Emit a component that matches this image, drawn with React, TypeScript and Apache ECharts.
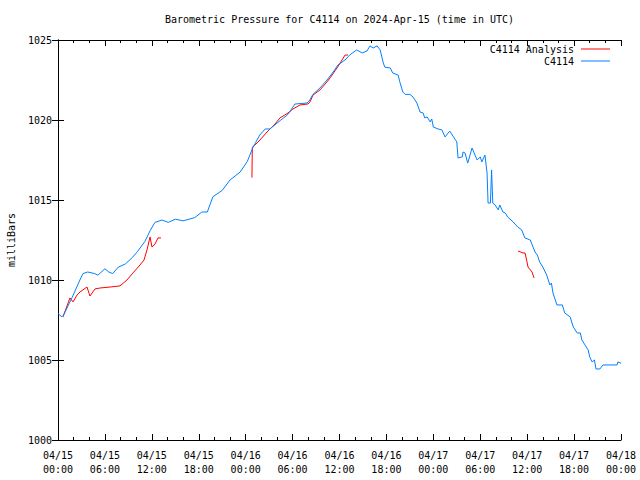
import React, { useEffect, useRef } from "react";
import * as echarts from "echarts";

// Hours since 2024-04-15 00:00 UTC
const stationHours = [
  0, 0.5, 0.7, 1.8, 2.8, 3.2, 3.8, 4.7, 5.1, 6.0, 6.5, 7.0, 7.7, 8.6, 9.5, 10.2, 11.1, 11.8, 12.4, 13.3,
  14.1, 15.0, 16.0, 17.5, 18.4, 19.1, 19.8, 21.0, 22.0, 23.3, 24.2, 24.9, 25.8, 26.5, 27.1, 27.75, 28.5,
  29.3, 29.7, 30.3, 31.85, 32.2, 32.6, 33.5, 34.4, 35.2, 35.8, 36.7, 37.3, 38.2, 38.9, 39.5, 39.9, 40.3,
  40.8, 41.2, 41.6, 41.8, 42.5, 42.8, 43.5, 43.7, 44.1, 44.4, 45.0, 45.4, 45.9, 46.3, 46.7, 46.9, 47.2,
  47.6, 47.8, 48.0, 48.6, 49.1, 49.5, 50.1, 50.5, 51.0, 51.16, 51.7, 51.8, 52.05, 52.4, 52.95, 53.6, 54.0,
  54.2, 54.6, 54.87, 55.0, 55.3, 55.45, 55.6, 55.9, 56.3, 56.5, 56.9, 57.2, 57.5, 58.2, 58.8, 59.3, 59.7,
  60.4, 61.0, 61.3, 61.6, 62.0, 62.5, 62.9, 63.1, 63.3, 63.8, 64.5, 64.8, 65.5, 65.9, 66.4, 66.8, 67.0,
  67.4, 67.8, 68.0, 68.3, 68.6, 68.8, 69.3, 69.7, 71.5, 71.6, 72.0,
];
const stationPressure = [
  1007.9, 1007.7, 1007.8, 1008.9, 1010.0, 1010.4, 1010.5, 1010.4, 1010.3, 1010.7, 1010.5, 1010.4, 1010.8,
  1011.0, 1011.4, 1011.8, 1012.4, 1013.1, 1013.6, 1013.75, 1013.6, 1013.8, 1013.7, 1013.9, 1014.25, 1014.25,
  1015.2, 1015.6, 1016.25, 1016.75, 1017.4, 1018.25, 1019.06, 1019.44, 1019.44, 1019.7, 1020.0, 1020.3,
  1020.56, 1021.0, 1021.06, 1021.25, 1021.6, 1022.0, 1022.5, 1023.0, 1023.44, 1023.75, 1024.06, 1024.38,
  1024.19, 1024.31, 1024.63, 1024.5, 1024.63, 1024.38, 1023.56, 1023.3, 1023.25, 1022.94, 1022.81, 1022.4,
  1021.75, 1021.6, 1021.6, 1021.44, 1021.06, 1020.5, 1020.44, 1020.13, 1020.19, 1019.88, 1020.06, 1019.56,
  1019.44, 1019.38, 1018.94, 1019.31, 1019.0, 1018.63, 1017.63, 1017.69, 1018.0, 1017.94, 1017.31, 1018.25,
  1017.5, 1017.69, 1017.38, 1017.81, 1016.69, 1014.81, 1014.81, 1016.88, 1014.81, 1014.69, 1014.38, 1014.69,
  1014.25, 1014.19, 1013.94, 1013.63, 1013.31, 1013.13, 1012.63, 1012.5, 1011.75, 1011.56, 1011.13, 1010.81,
  1010.31, 1009.69, 1009.81, 1009.19, 1008.44, 1008.44, 1007.94, 1007.69, 1007.06, 1006.69, 1006.69, 1006.25,
  1005.94, 1005.63, 1005.19, 1004.88, 1005.0, 1004.44, 1004.44, 1004.69, 1004.69, 1004.88, 1004.8,
];

// null entries break the analysis line into its three segments
const analysisHours = [
  0.64, 1.53, 1.92, 2.43, 2.81, 3.71, 4.09, 4.73, 5.37, 6.65, 7.93, 8.82, 9.59, 10.49, 11.0, 11.38, 11.77,
  12.02, 12.41, 12.79, 13.17, 18,
  24.8, 24.85, 25.45, 25.83, 26.73, 27.75, 28.39, 29.42, 30.05, 30.95, 31.97, 32.23, 32.61, 33.51, 34.4,
  34.79, 35.68, 36.32, 36.71, 37.09, 48,
  58.83, 59.47, 59.73, 59.98, 60.11, 60.62, 60.88,
];
const analysisPressure = [
  1007.69, 1008.88, 1008.63, 1009.06, 1009.25, 1009.56, 1009.0, 1009.44, 1009.5, 1009.56, 1009.63, 1010.0,
  1010.44, 1010.94, 1011.25, 1011.88, 1012.69, 1012.06, 1012.25, 1012.63, 1012.63, null,
  1016.4, 1018.3, 1018.56, 1018.75, 1019.25, 1019.75, 1020.13, 1020.44, 1020.69, 1020.94, 1021.0, 1021.13,
  1021.56, 1021.88, 1022.38, 1022.63, 1023.25, 1023.75, 1024.06, 1024.06, null,
  1011.81, 1011.69, 1011.69, 1011.13, 1010.81, 1010.5, 1010.13,
];

const xTickHours = [0, 72];
const yRange = [1000, 1025];
const titleText = "Barometric Pressure for C4114 on 2024-Apr-15 (time in UTC)";
const seriesNames = ["C4114 Analysis", "C4114"];

const FONT = "DejaVu Sans Mono";

function hourLabel(h: number): string {
  const day = 15 + Math.floor(h / 24);
  const hr = Math.round(h % 24);
  const dd = String(day).padStart(2, "0");
  const hh = String(hr).padStart(2, "0");
  return `04/${dd}\n${hh}:00`;
}

export default function App() {
  const ref = useRef<HTMLDivElement>(null);

  useEffect(() => {
    if (!ref.current) return;
    const chart = echarts.init(ref.current, undefined, { renderer: "svg" });

    const stationData = stationHours.map((h, i) => [h, stationPressure[i]]);
    const analysisData = analysisHours.map((h, i) => [h, analysisPressure[i]]);

    const textStyle = { fontFamily: FONT, fontSize: 10, color: "#000" };

    const baseX = {
      type: "value" as const,
      min: xTickHours[0],
      max: xTickHours[1],
      interval: 6,
      axisLine: { show: true, lineStyle: { color: "#000", width: 1 } },
      axisTick: { show: true, inside: true, length: 6, lineStyle: { color: "#000" } },
      minorTick: { show: true, splitNumber: 3, length: 3, lineStyle: { color: "#000" } },
      splitLine: { show: false },
      minorSplitLine: { show: false },
    };
    const baseY = {
      type: "value" as const,
      min: yRange[0],
      max: yRange[1],
      interval: 5,
      axisLine: { show: true, lineStyle: { color: "#000", width: 1 } },
      axisTick: { show: true, inside: true, length: 6, lineStyle: { color: "#000" } },
      splitLine: { show: false },
    };

    const legendBase = {
      orient: "vertical" as const,
      right: 30,
      align: "right" as const,
      icon: "rect",
      itemWidth: 29,
      itemHeight: 1,
      itemGap: 0,
      padding: 0,
      textStyle: { ...textStyle, padding: [0, 2, 0, 0] },
      selectedMode: false,
    };

    chart.setOption({
      animation: false,
      backgroundColor: "#fff",
      grid: { left: 58, right: 19, top: 40, bottom: 40, containLabel: false, outerBoundsMode: "none" },
      graphic: [
        {
          type: "text",
          x: 339.5,
          y: 19,
          style: {
            text: titleText,
            fontFamily: FONT,
            fontSize: 10,
            fill: "#000",
            textAlign: "center",
            textVerticalAlign: "middle",
          },
        },
      ],
      legend: [
        { ...legendBase, top: 44, data: [seriesNames[0]] },
        { ...legendBase, top: 56, data: [seriesNames[1]] },
      ],
      xAxis: [
        {
          ...baseX,
          position: "bottom",
          axisLabel: {
            ...textStyle,
            margin: 8,
            lineHeight: 14,
            formatter: (v: number) => hourLabel(v),
          },
        },
        { ...baseX, position: "top", axisLabel: { show: false } },
      ],
      yAxis: [
        {
          ...baseY,
          position: "left",
          name: "milliBars",
          nameLocation: "middle",
          nameGap: 42,
          nameRotate: 90,
          nameTextStyle: textStyle,
          axisLabel: { ...textStyle, margin: 6, formatter: (v: number) => String(v) },
        },
        { ...baseY, position: "right", axisLabel: { show: false } },
      ],
      series: [
        {
          name: seriesNames[0],
          type: "line",
          data: analysisData,
          xAxisIndex: 0,
          yAxisIndex: 0,
          showSymbol: false,
          symbol: "none",
          connectNulls: false,
          color: "#ff0000",
          lineStyle: { color: "#ff0000", width: 1 },
        },
        {
          name: seriesNames[1],
          type: "line",
          data: stationData,
          xAxisIndex: 0,
          yAxisIndex: 0,
          showSymbol: false,
          symbol: "none",
          color: "#0080ff",
          lineStyle: { color: "#0080ff", width: 1 },
        },
      ],
    });

    return () => chart.dispose();
  }, []);

  return (
    <div
      ref={ref}
      style={{ position: "fixed", left: 0, top: 0, width: 640, height: 480, background: "#fff" }}
    />
  );
}
